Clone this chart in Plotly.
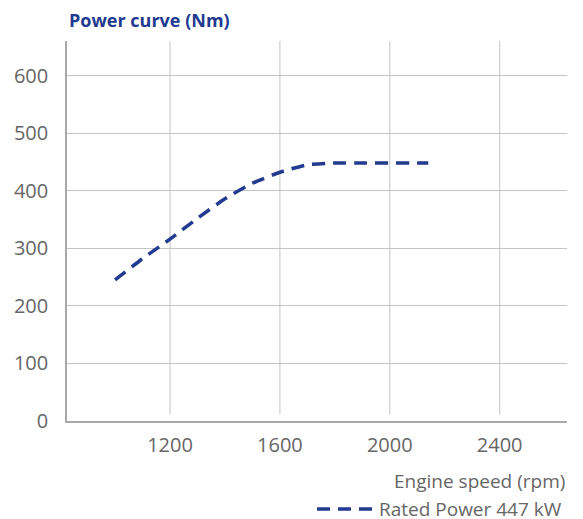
import plotly.graph_objects as go

# Torque curve, engine speed (rpm) vs torque (Nm)
speed_rpm = [1000, 1100, 1200, 1300, 1400, 1500, 1600, 1700, 1800, 1900, 2000, 2100, 2140]
torque_nm = [245, 282, 316, 352, 386, 413, 432, 445, 448, 448, 448, 448, 448]

x_ticks = [1200, 1600, 2000, 2400]
y_ticks = [0, 100, 200, 300, 400, 500, 600]

series_name = "Rated Power 447 kW"
chart_title = "Power curve (Nm)"
x_title = "Engine speed (rpm)"

BLUE = "#223a8f"
GREY_TEXT = "#666666"
GRID = "#c4c4c4"
FONT = "'Open Sans', sans-serif"

fig = go.Figure()
fig.add_trace(go.Scatter(
    x=speed_rpm, y=torque_nm, mode="lines", name=series_name,
    line=dict(color=BLUE, width=3.5, dash="13px,8px", shape="spline", smoothing=0.6),
    showlegend=True,
))

# vertical grid lines stop just short of the x axis
for t in x_ticks:
    fig.add_shape(type="line", xref="x", yref="y domain", x0=t, x1=t, y0=0.017, y1=1,
                  line=dict(color=GRID, width=1), layer="below")

fig.update_layout(
    width=583, height=519,
    margin=dict(l=67, r=16, t=41, b=98, autoexpand=False),
    paper_bgcolor="white", plot_bgcolor="white",
    font=dict(family=FONT, color=GREY_TEXT, size=19),
    xaxis=dict(range=[825, 2645], tickvals=x_ticks, showgrid=False, zeroline=False,
               showline=True, linecolor="#a8a8a8", linewidth=1.5, ticks="",
               tickfont=dict(size=20, color=GREY_TEXT), ticklabelstandoff=5),
    yaxis=dict(range=[0, 660], tickvals=y_ticks, showgrid=True, gridcolor=GRID, gridwidth=1,
               zeroline=False, showline=True, linecolor="#a8a8a8", linewidth=1.5, ticks="",
               tickfont=dict(size=20, color=GREY_TEXT), ticklabelstandoff=13),
    showlegend=True,
    legend=dict(x=1, xanchor="right", y=-0.232, yanchor="middle", itemwidth=57,
                font=dict(size=19, color=GREY_TEXT), bgcolor="rgba(0,0,0,0)",
                traceorder="normal"),
    annotations=[
        dict(text=chart_title, xref="paper", yref="paper", x=0, y=1, xanchor="left",
             yanchor="bottom", yshift=7, showarrow=False,
             font=dict(family=FONT, size=18, color=BLUE, weight="bold")),
        dict(text=x_title, xref="paper", yref="paper", x=1, y=0, xanchor="right",
             yanchor="middle", yshift=-60, showarrow=False,
             font=dict(family=FONT, size=19, color=GREY_TEXT)),
    ],
)

fig.write_html("out.html")
